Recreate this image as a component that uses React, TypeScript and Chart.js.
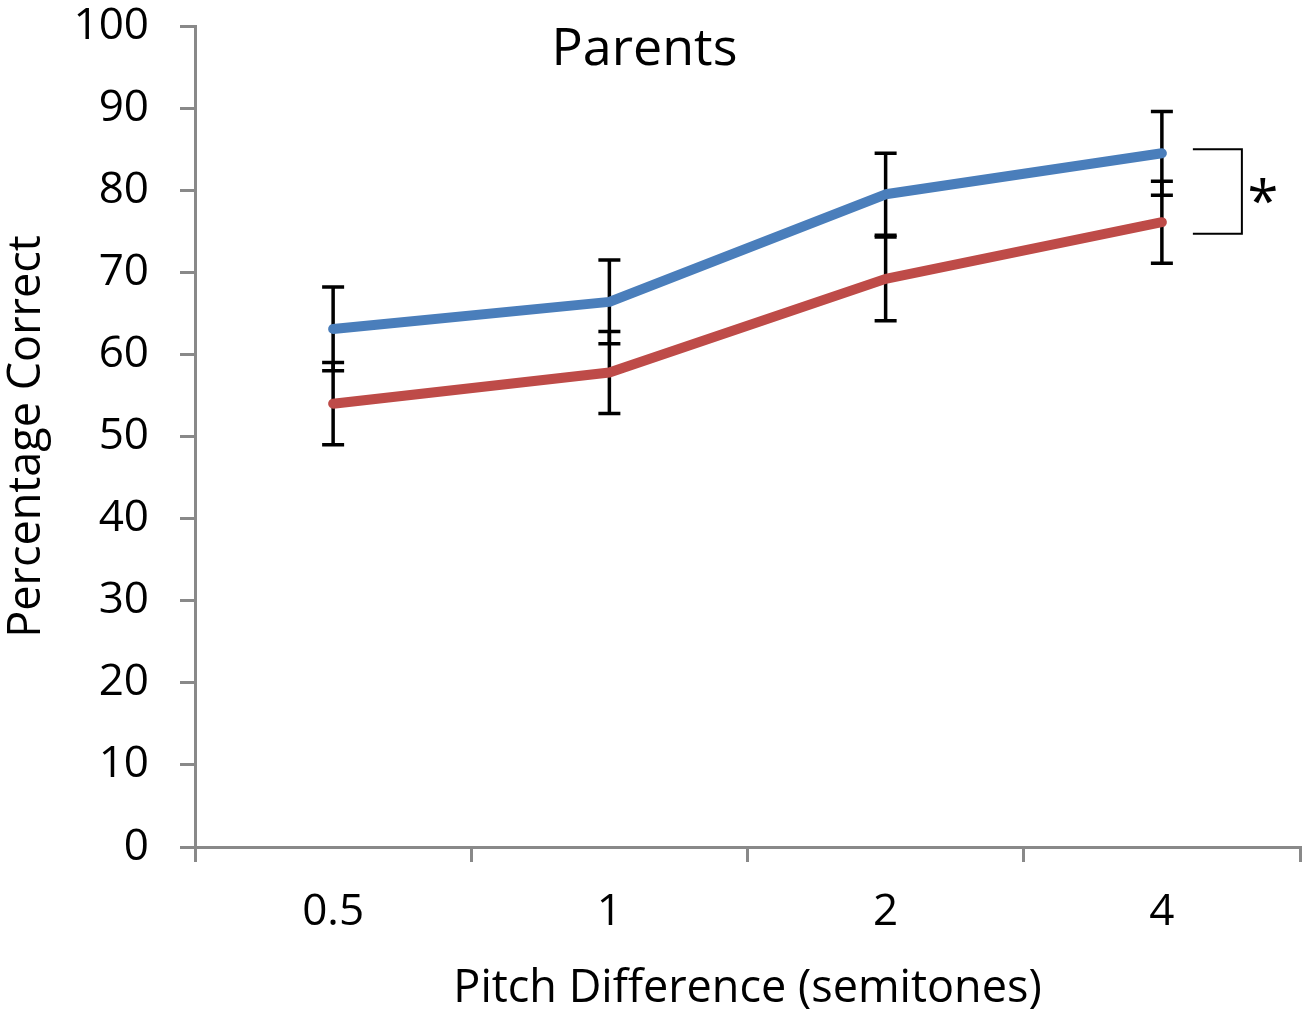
import { useEffect, useRef } from "react";
import { Chart, registerables } from "chart.js";

Chart.register(...registerables);

const categories = ["0.5", "1", "2", "4"];
const blueValues = [63.1, 66.4, 79.5, 84.5];
const blueErrors = [5.1, 5.1, 5.0, 5.1];
const redValues = [54.0, 57.8, 69.2, 76.1];
const redErrors = [5.0, 5.0, 5.1, 5.0];
const sigBracket = [85.0, 74.7];
const titleText = "Parents";
const xTitle = "Pitch Difference (semitones)";
const yTitle = "Percentage Correct";

const FONT = '"Open Sans", "Noto Sans", sans-serif';
const AXIS_GRAY = "#898989";

export default function App() {
  const ref = useRef<HTMLCanvasElement | null>(null);

  useEffect(() => {
    document.body.style.margin = "0";
    const canvas = ref.current;
    if (!canvas) return;

    const errorBars = {
      id: "errorBars",
      beforeDatasetsDraw(chart: any) {
        const ctx = chart.ctx;
        const xs = chart.scales.x;
        const ys = chart.scales.y;
        const sets = [
          { v: blueValues, e: blueErrors },
          { v: redValues, e: redErrors },
        ];
        ctx.save();
        ctx.strokeStyle = "#000";
        ctx.lineWidth = 3.5;
        sets.forEach((s) => {
          s.v.forEach((val, i) => {
            const x = xs.getPixelForValue(i);
            const yTop = ys.getPixelForValue(val + s.e[i]);
            const yBot = ys.getPixelForValue(val - s.e[i]);
            ctx.beginPath();
            ctx.moveTo(x, yTop);
            ctx.lineTo(x, yBot);
            ctx.moveTo(x - 11, yTop);
            ctx.lineTo(x + 11, yTop);
            ctx.moveTo(x - 11, yBot);
            ctx.lineTo(x + 11, yBot);
            ctx.stroke();
          });
        });
        ctx.restore();
      },
    };

    const annotations = {
      id: "annotations",
      afterDraw(chart: any) {
        const ctx = chart.ctx;
        const xs = chart.scales.x;
        const ys = chart.scales.y;
        ctx.save();
        ctx.fillStyle = "#000";
        ctx.font = `52px ${FONT}`;
        ctx.textAlign = "center";
        ctx.textBaseline = "alphabetic";
        ctx.fillText(titleText, chart.width / 2 - 8, 65);
        const xl = xs.getPixelForValue(3) + 31;
        const xr = xs.getPixelForValue(3) + 80;
        const yt = ys.getPixelForValue(sigBracket[0]);
        const yb = ys.getPixelForValue(sigBracket[1]);
        ctx.strokeStyle = "#000";
        ctx.lineWidth = 2;
        ctx.beginPath();
        ctx.moveTo(xl, yt);
        ctx.lineTo(xr, yt);
        ctx.lineTo(xr, yb);
        ctx.lineTo(xl, yb);
        ctx.stroke();
        ctx.font = `56px ${FONT}`;
        ctx.textAlign = "center";
        ctx.fillText("*", xr + 21, (yt + yb) / 2 + 30);
        ctx.restore();
      },
    };

    const chart = new Chart(canvas, {
      type: "line",
      data: {
        labels: categories,
        datasets: [
          {
            label: "Blue",
            data: blueValues,
            borderColor: "#4A7EBB",
            backgroundColor: "#4A7EBB",
            borderWidth: 10,
            borderCapStyle: "round",
            borderJoinStyle: "round",
            pointRadius: 0,
            fill: false,
            tension: 0,
          },
          {
            label: "Red",
            data: redValues,
            borderColor: "#BE4B48",
            backgroundColor: "#BE4B48",
            borderWidth: 10,
            borderCapStyle: "round",
            borderJoinStyle: "round",
            pointRadius: 0,
            fill: false,
            tension: 0,
          },
        ],
      },
      options: {
        responsive: false,
        animation: false,
        layout: { padding: { top: 0, right: 5, left: 0, bottom: 0 } },
        plugins: {
          legend: { display: false },
          tooltip: { enabled: false },
          title: { display: false },
        },
        scales: {
          x: {
            type: "category",
            offset: true,
            afterFit(scale: any) {
              scale.height = 163;
            },
            grid: {
              offset: true,
              drawOnChartArea: false,
              drawTicks: true,
              tickLength: 15,
              color: AXIS_GRAY,
              lineWidth: 3,
            },
            border: { display: true, color: AXIS_GRAY, width: 3 },
            ticks: {
              color: "#000",
              font: { family: FONT, size: 44 },
              padding: 24,
              maxRotation: 0,
            },
            title: {
              display: true,
              text: xTitle,
              color: "#000",
              font: { family: FONT, size: 45, lineHeight: 1 },
              padding: { top: 0, bottom: -2 },
            },
          },
          y: {
            type: "linear",
            min: 0,
            max: 100,
            afterFit(scale: any) {
              scale.width = 195;
              scale.paddingTop = 26;
            },
            grid: {
              drawOnChartArea: false,
              drawTicks: true,
              tickLength: 15,
              color: AXIS_GRAY,
              lineWidth: 3,
            },
            border: { display: true, color: AXIS_GRAY, width: 3 },
            ticks: {
              stepSize: 10,
              color: "#000",
              font: { family: FONT, size: 44, lineHeight: 1 },
              padding: 31,
            },
            title: {
              display: true,
              text: yTitle,
              color: "#000",
              font: { family: FONT, size: 45 },
              padding: { top: 0, bottom: 0 },
            },
          },
        },
      },
      plugins: [errorBars, annotations],
    });

    return () => chart.destroy();
  }, []);

  return (
    <canvas
      ref={ref}
      width={1305}
      height={1010}
      style={{ display: "block", width: 1305, height: 1010 }}
    />
  );
}
